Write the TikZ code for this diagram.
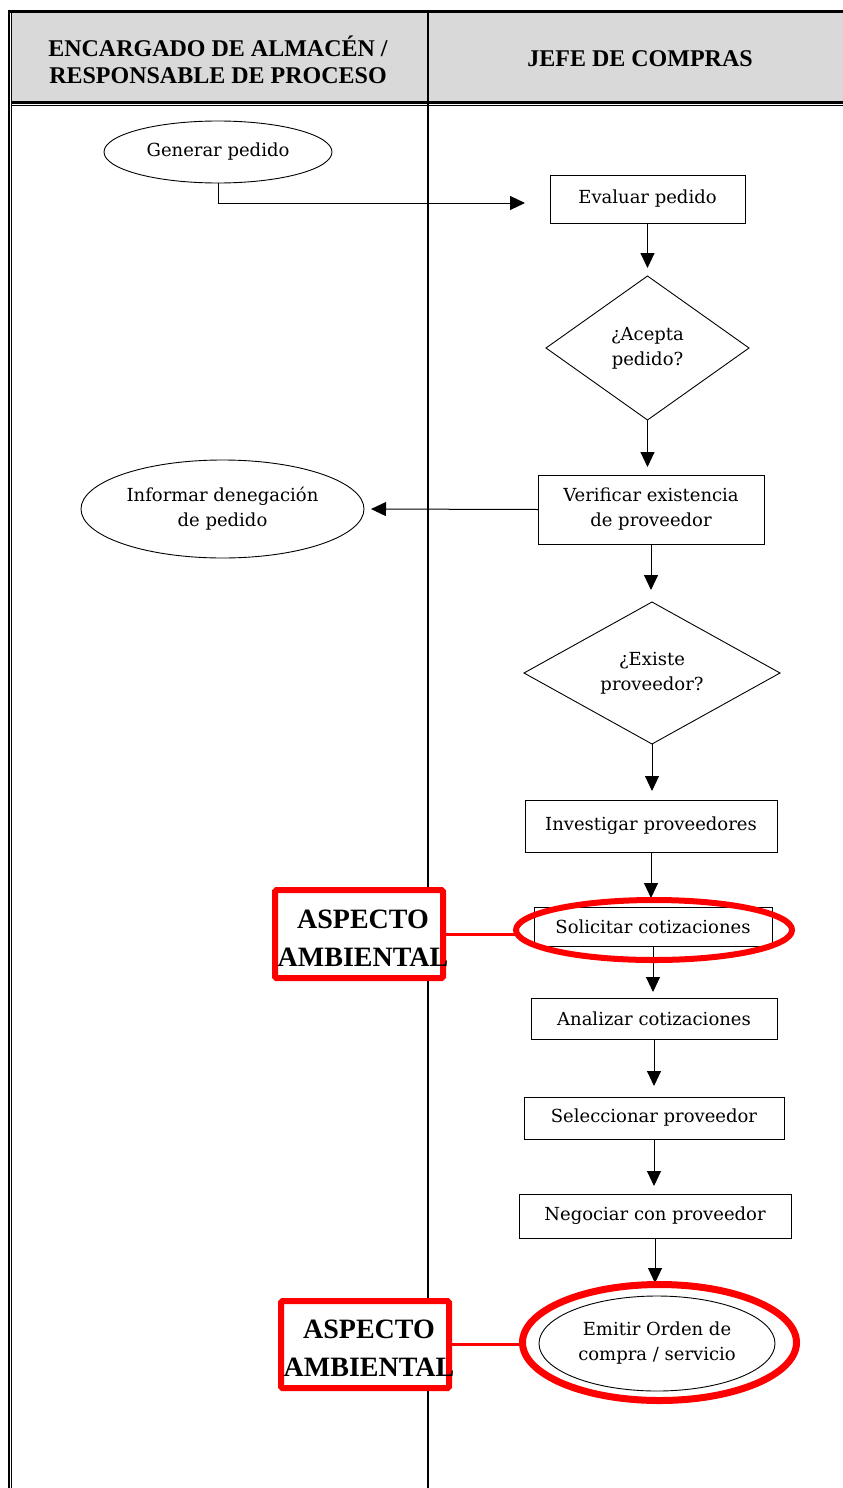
\documentclass[tikz,border=0pt]{standalone}
\usepackage{fontspec}
\usetikzlibrary{shapes.geometric,arrows.meta}
\newfontfamily\hdrfont{Liberation Serif}
\newfontfamily\stepfont{DejaVu Serif}
\definecolor{hdrgray}{RGB}{217,217,217}
\definecolor{hlred}{RGB}{255,0,0}

\begin{document}
\begin{tikzpicture}[x=1pt,y=-1pt,
  every node/.style={font=\stepfont\fontsize{18}{25}\selectfont, inner sep=0pt, outer sep=0pt, align=center},
  procbox/.style={draw, line width=0.9pt, rectangle},
  term/.style={draw, line width=0.9pt, ellipse},
  decision/.style={draw, line width=0.9pt, diamond},
  arr/.style={line width=1pt, -{Triangle[length=15pt,width=14pt]}},
  hlring/.style={draw=hlred, line width=6pt, ellipse},
  tagbox/.style={draw=hlred, fill=white, line width=6pt, rectangle, rounded corners=1.5pt},
  tagtext/.style={font=\hdrfont\bfseries\fontsize{28}{38}\selectfont},
  tagline/.style={draw=hlred, line width=3pt},
  lanehead/.style={font=\hdrfont\bfseries\fontsize{24}{27}\selectfont},
]
\useasboundingbox (0,0) rectangle (843,1488);

% swimlane frame and header band
\fill[hdrgray] (12,13) rectangle (843,101);
\draw[line width=3pt] (8,11.5) -- (843,11.5);
\draw[line width=1.6pt] (8.7,10) -- (8.7,1488);
\draw[line width=1pt] (11.8,13) -- (11.8,1488);
\draw[line width=3pt] (12,102.3) -- (843,102.3);
\draw[line width=1.2pt] (12,105.8) -- (843,105.8);
\draw[line width=2pt] (428,13) -- (428,1488);

\node[lanehead] (h1) at (218,60) {ENCARGADO DE ALMACÉN /\\RESPONSABLE DE PROCESO};
\node[lanehead] (h2) at (640,59) {JEFE DE COMPRAS};

% flow steps
\node[term, minimum width=228pt, minimum height=62pt] (gen) at (218,152) {Generar pedido};
\node[procbox, minimum width=195pt, minimum height=48pt] (eval) at (647.5,199) {Evaluar pedido};
\node[decision, aspect=1.41, minimum width=203pt, minimum height=144pt] (acc) at (647.5,348) {¿Acepta\\pedido?};
\node[procbox, minimum width=226pt, minimum height=69pt] (ver) at (651,509.5) {Verificar existencia\\de proveedor};
\node[term, minimum width=283pt, minimum height=98pt] (inf) at (222.5,509) {Informar denegación\\de pedido};
\node[decision, aspect=1.8, minimum width=256pt, minimum height=142pt] (ext) at (652,673) {¿Existe\\proveedor?};
\node[procbox, minimum width=252pt, minimum height=52pt] (inv) at (651,826) {Investigar proveedores};
\node[procbox, minimum width=238pt, minimum height=39pt] (sol) at (653,926.5) {Solicitar cotizaciones};
\node[procbox, minimum width=246pt, minimum height=41pt] (ana) at (654,1018.5) {Analizar cotizaciones};
\node[procbox, minimum width=260pt, minimum height=42pt] (sel) at (654,1118) {Seleccionar proveedor};
\node[procbox, minimum width=272pt, minimum height=44pt] (neg) at (655,1216) {Negociar con proveedor};
\node[term, minimum width=236pt, minimum height=95pt] (emi) at (657,1343.5) {Emitir Orden de\\compra / servicio};

\coordinate (c1) at (525,203);

% connectors
\draw[arr] (gen.south) |- (c1);
\draw[arr, shorten >=8pt] (eval.south) -- (eval.south |- acc.north);
\draw[arr, shorten >=8pt] (acc.south) -- (acc.south |- ver.north);
\draw[arr, shorten >=7pt] (ver.west) -- (inf.east);
\draw[arr, shorten >=12pt] (ver.south) -- (ver.south |- ext.north);
\draw[arr, shorten >=9pt] (ext.south) -- (ext.south |- inv.north);
\draw[arr, shorten >=9pt] (inv.south) -- (inv.south |- sol.north);
\draw[arr, shorten >=6pt] (sol.south) -- (sol.south |- ana.north);
\draw[arr, shorten >=11pt] (ana.south) -- (ana.south |- sel.north);
\draw[arr, shorten >=8pt] (sel.south) -- (sel.south |- neg.north);
\draw[arr, shorten >=13pt] (neg.south) -- (neg.south |- emi.north);

% environmental aspect highlights
\node[hlring, minimum width=276pt, minimum height=60pt] (hl1) at (654,930) {};
\node[hlring, line width=7pt, minimum width=274pt, minimum height=116pt] (hl2) at (659.5,1342.5) {};
\node[tagbox, minimum width=168pt, minimum height=88pt] (tag1) at (359,934) {};
\node[tagbox, minimum width=168pt, minimum height=87pt] (tag2) at (365,1344.5) {};
\node[tagtext] (tag1t) at (363,938) {ASPECTO\\AMBIENTAL};
\node[tagtext] (tag2t) at (369,1348) {ASPECTO\\AMBIENTAL};
\draw[tagline] (tag1.east) -- (tag1.east -| hl1.west);
\draw[tagline] (tag2.east) -- (tag2.east -| hl2.west);
\end{tikzpicture}
\end{document}
